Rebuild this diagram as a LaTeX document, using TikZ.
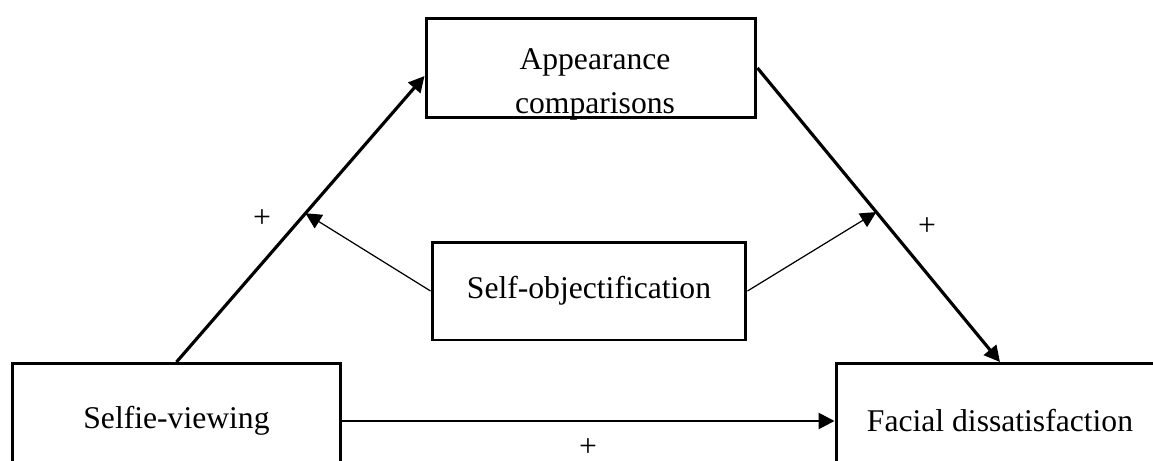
\documentclass[tikz,border=0pt]{standalone}
\usepackage{fontspec}
\setmainfont{Liberation Serif}
\usetikzlibrary{arrows.meta,calc}
\begin{document}
\begin{tikzpicture}[x=0.02cm, y=-0.02cm,
font=\fontsize{18}{25}\selectfont,
every edge/.style = {draw=black, line width=1.8pt,
      -{Triangle[length=9pt,width=9pt]}},
 thinarrow/.style = {line width=0.7pt},
 flatarrow/.style = {line width=1.5pt},
 box/.style args = {#1/#2}{%
      rectangle, draw, line width=1.7pt, fill=white,
      minimum width=#1, minimum height=#2, inner sep=0pt},
 sign/.style = {inner sep=0pt}
                    ]
\useasboundingbox (0,0) rectangle (1153,460);
\clip (0,0) rectangle (1153,460);
\node(comp) [box=6.6cm/2cm] at (591, 68) {};
\node(comptext) [align=center, inner sep=0pt] at (595, 84) {Appearance\\comparisons};
\node(selfobj) [box=6.28cm/1.96cm] at (589,291) {Self-objectification};
\node(selfie) [box=6.58cm/2.3cm] at (176.5,421) {Selfie-viewing};
\node(facial) [box=6.56cm/2.3cm] at (1000,421) {Facial dissatisfaction};
%
\coordinate (lmid) at ($(selfie.north)!0.52!([yshift=-0.16cm]comp.west)$);
\coordinate (rmid) at ($(comp.east)!0.49!(facial.north)$);
%
\path   (selfie.north)  edge ([yshift=-0.16cm]comp.west);
\path   (comp.east)     edge (facial.north);
\path   (selfie.east)   edge[flatarrow] (facial.west);
\path   (selfobj.west)  edge[thinarrow] (lmid);
\path   (selfobj.east)  edge[thinarrow] (rmid);
%
\node(plusl) [sign] at (262,219) {+};
\node(plusr) [sign] at (927,227) {+};
\node(plusb) [sign] at (588,448) {+};
\end{tikzpicture}
\end{document}
